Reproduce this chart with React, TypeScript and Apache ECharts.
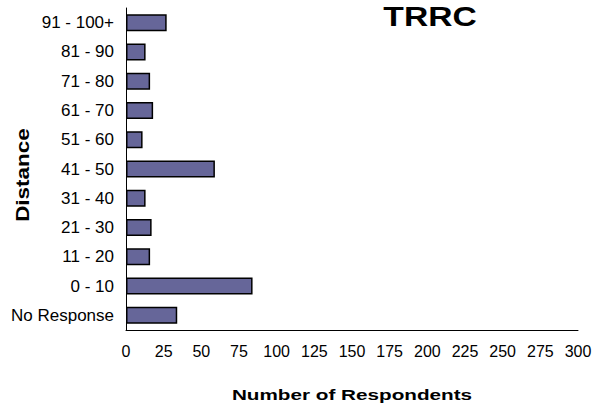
import React, { useEffect, useRef } from "react";
import * as echarts from "echarts";

const categories = [
  "No Response",
  "0 - 10",
  "11 - 20",
  "21 - 30",
  "31 - 40",
  "41 - 50",
  "51 - 60",
  "61 - 70",
  "71 - 80",
  "81 - 90",
  "91 - 100+",
];
const respondents = [34, 84, 16, 17, 13, 59, 11, 18, 16, 13, 27];
const xTicks = { min: 0, max: 300, interval: 25 };
const titleText = "TRRC";
const yAxisTitle = "Distance";
const xAxisTitle = "Number of Respondents";

const FONT = "'Liberation Sans', Arial, sans-serif";

export default function App() {
  const ref = useRef<HTMLDivElement>(null);
  useEffect(() => {
    if (!ref.current) return;
    const chart = echarts.init(ref.current, null, { renderer: "svg" });
    chart.setOption({
      animation: false,
      backgroundColor: "#ffffff",
      grid: { left: 126, right: 18, top: 8, bottom: 76, containLabel: false },
      xAxis: {
        type: "value",
        min: xTicks.min,
        max: xTicks.max,
        interval: xTicks.interval,
        axisLine: { show: true, lineStyle: { color: "#000", width: 1 } },
        axisTick: { show: false },
        splitLine: { show: false },
        axisLabel: { color: "#000", fontSize: 16, fontFamily: FONT, margin: 13 },
      },
      yAxis: {
        type: "category",
        data: categories,
        axisLine: { show: true, lineStyle: { color: "#000", width: 1 } },
        axisTick: { show: false },
        splitLine: { show: false },
        axisLabel: { color: "#000", fontSize: 17, fontFamily: FONT, margin: 12 },
      },
      series: [
        {
          type: "bar",
          data: respondents,
          barWidth: 17,
          itemStyle: { color: "#666699", borderColor: "#000", borderWidth: 1.5 },
        },
      ],
      graphic: [
        {
          type: "text",
          x: 430,
          y: 16.5,
          scaleX: 1.2,
          style: {
            text: titleText,
            font: `bold 28px ${FONT}`,
            fill: "#000",
            textAlign: "center",
            textVerticalAlign: "middle",
          },
        },
        {
          type: "text",
          x: 23,
          y: 175,
          rotation: Math.PI / 2,
          scaleX: 1.25,
          style: {
            text: yAxisTitle,
            font: `bold 18px ${FONT}`,
            fill: "#000",
            textAlign: "center",
            textVerticalAlign: "middle",
          },
        },
        {
          type: "text",
          x: 352,
          y: 395,
          scaleX: 1.38,
          style: {
            text: xAxisTitle,
            font: `bold 15px ${FONT}`,
            fill: "#000",
            textAlign: "center",
            textVerticalAlign: "middle",
          },
        },
      ],
    });
    return () => chart.dispose();
  }, []);
  return (
    <div
      ref={ref}
      style={{ position: "absolute", left: 0, top: 0, width: 596, height: 406 }}
    />
  );
}
